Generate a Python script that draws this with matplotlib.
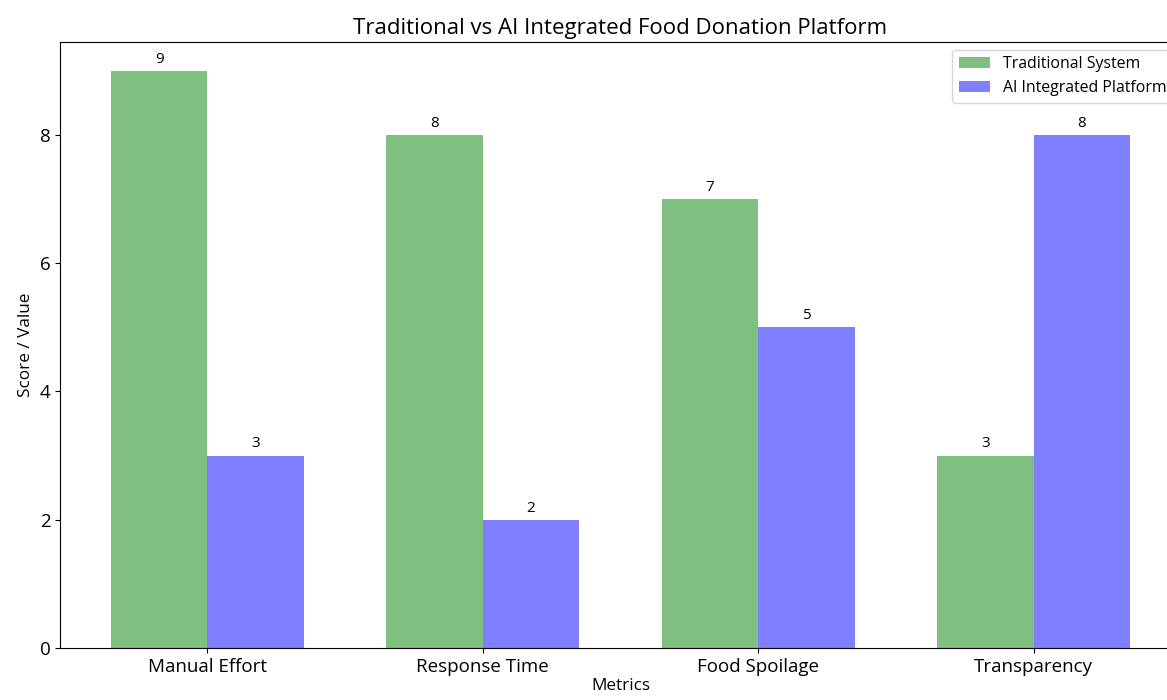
import numpy as np
import matplotlib
matplotlib.use("Agg")
from matplotlib import pyplot as plt

metrics = ["Manual Effort", "Response Time", "Food Spoilage", "Transparency"]
traditional = [9, 8, 7, 3]
ai_platform = [3, 2, 5, 8]

plt.rcParams['font.family'] = ['Open Sans', 'DejaVu Sans']

fig = plt.figure(figsize=(11.67, 7), dpi=100)
# axes run a bit past the right edge, like the cropped reference
ax = fig.add_axes([0.0514, 0.0743, 0.9606, 0.8657])

x = np.arange(len(metrics))
width = 0.35

b1 = ax.bar(x - width / 2, traditional, width, color="green", alpha=0.5, label="Traditional System")
b2 = ax.bar(x + width / 2, ai_platform, width, color="blue", alpha=0.5, label="AI Integrated Platform")

for bars in (b1, b2):
    for bar in bars:
        h = bar.get_height()
        ax.annotate(f"{h:g}", xy=(bar.get_x() + bar.get_width() / 2, h),
                    xytext=(0, 3), textcoords="offset points",
                    ha="center", va="bottom", fontsize=11)

ax.set_xticks(x)
ax.set_xticklabels(metrics, fontsize=13.5)
ax.tick_params(axis="y", labelsize=13.5)
ax.set_xlabel("Metrics", fontsize=12.3, labelpad=2)
ax.set_ylabel("Score / Value", fontsize=12.3)
ax.set_title("Traditional vs AI Integrated Food Donation Platform", fontsize=16)
ax.legend(loc="upper right", fontsize=11.4)

fig.savefig("out.png", dpi=100)
